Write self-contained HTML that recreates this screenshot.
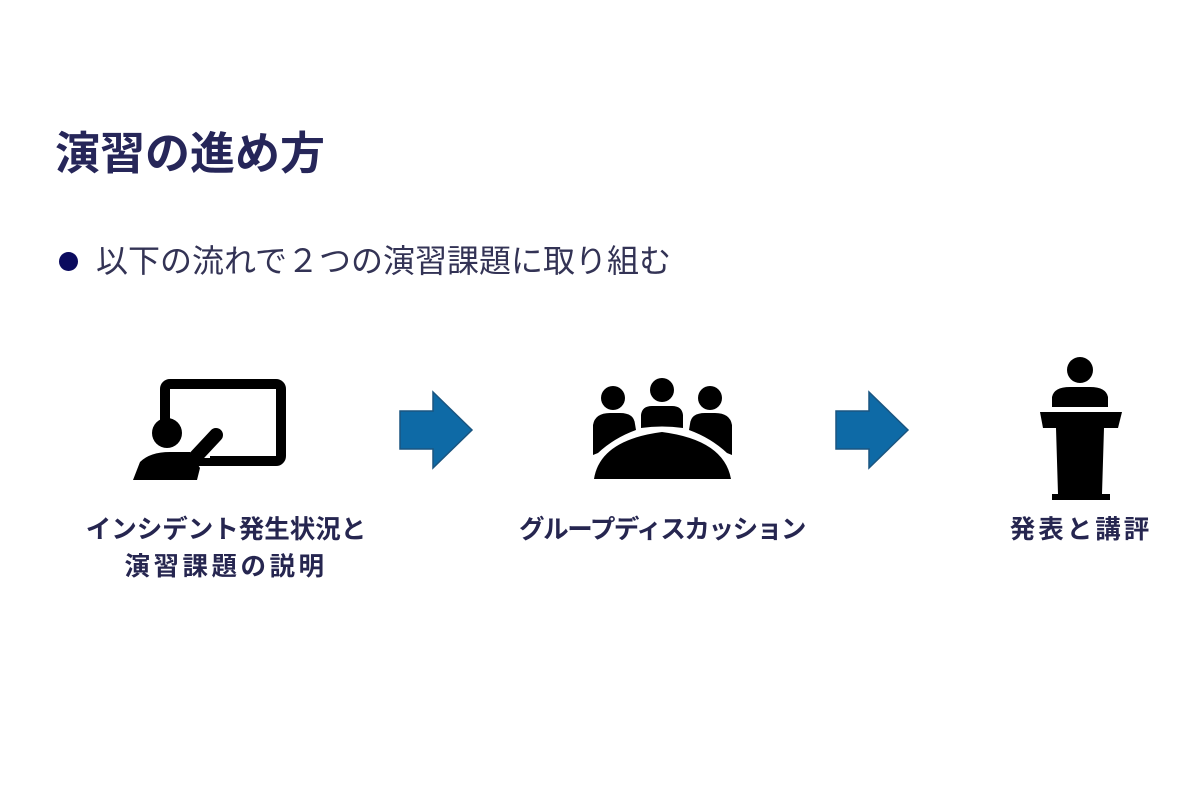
<!DOCTYPE html>
<html><head><meta charset="utf-8"><style>
body{margin:0;width:1200px;height:800px;background:#fff;position:relative;overflow:hidden;font-family:"Liberation Sans","Noto Sans CJK JP",sans-serif}
.t{position:absolute;white-space:nowrap}
.lab{position:absolute;font-weight:bold;font-size:25.5px;color:#262650;text-align:center;line-height:37px;white-space:nowrap}
</style></head><body>
<div class="t" style="left:55px;top:125px;font-size:45px;font-weight:bold;color:#262659;line-height:58px">演習の進め方</div>
<div style="position:absolute;left:59px;top:252px;width:19px;height:19px;border-radius:50%;background:#0b0b5e"></div>
<div class="t" style="left:96px;top:240px;font-size:32px;color:#333355;line-height:42px">以下の流れで２つの演習課題に取り組む</div>
<svg width="1200" height="800" style="position:absolute;left:0;top:0">
<rect x="165" y="384" width="116" height="77" rx="5" fill="none" stroke="#000" stroke-width="10"/>
<rect x="150" y="420" width="60" height="38" fill="#fff"/>
<circle cx="167" cy="433" r="15" fill="#000"/>
<path d="M133 480 L140 462 Q150 452 170 452 L190 452 L200 468 L197 480 Z" fill="#000"/>
<line x1="188" y1="465" x2="216" y2="435" stroke="#000" stroke-width="14" stroke-linecap="round"/>
<polygon points="400,411 433,411 433,392 472,430 433,468 433,449 400,449" fill="#0e6aa6" stroke="#1a5580" stroke-width="1.5"/>
<polygon points="836,411 869,411 869,392 908,430 869,468 869,449 836,449" fill="#0e6aa6" stroke="#1a5580" stroke-width="1.5"/>
<circle cx="613" cy="398" r="12" fill="#000"/>
<circle cx="662" cy="390" r="12" fill="#000"/>
<circle cx="710" cy="398" r="12" fill="#000"/>
<path d="M593 455 L593 425 Q595 413 610 413 L620 413 Q634 413 635 424 L636 430 Q614 438 598 453 Z" fill="#000"/>
<path d="M732 455 L732 425 Q730 413 715 413 L705 413 Q691 413 690 424 L689 430 Q711 438 727 453 Z" fill="#000"/>
<path d="M641 428 L641 415 Q642 406 652 406 L672 406 Q682 406 683 415 L683 428 Q662 425 641 428 Z" fill="#000"/>
<path d="M594 479 Q600 440 662 432 Q724 440 731 479 Z" fill="#000"/>
<circle cx="1080" cy="370" r="13" fill="#000"/>
<path d="M1052 407 L1052 397 Q1054 387 1070 387 L1090 387 Q1106 387 1108 397 L1108 407 Z" fill="#000"/>
<path d="M1040 412 L1122 412 L1118 428 L1104 428 L1102 494 L1058 494 L1056 428 L1043 428 Z" fill="#000"/>
<rect x="1052" y="494" width="58" height="6" fill="#000"/>
</svg>
<div class="lab" style="left:76px;width:300px;top:512px">インシデント発生状況と<br><span style="letter-spacing:3.5px">演習課題の説明</span></div>
<div class="lab" style="left:512px;width:300px;top:512px;letter-spacing:-1.4px">グループディスカッション</div>
<div class="lab" style="left:931px;width:300px;top:512px;letter-spacing:3px">発表と講評</div>
</body></html>
